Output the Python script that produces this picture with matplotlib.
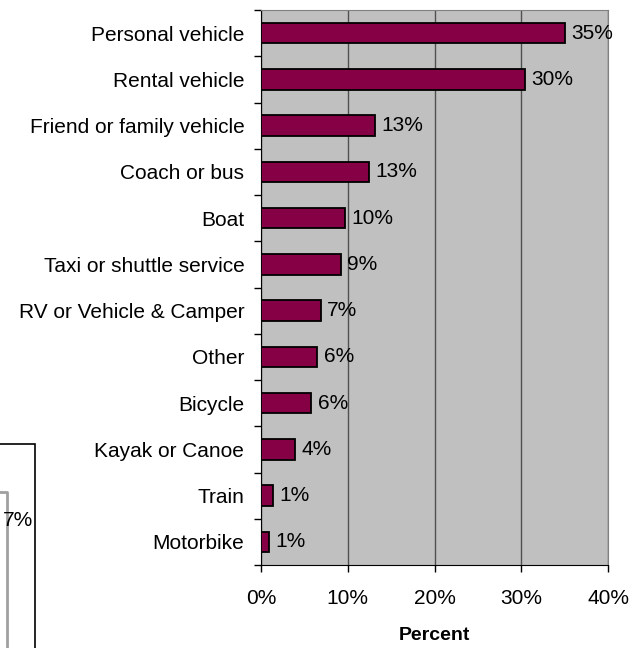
import matplotlib
matplotlib.use('Agg')
import matplotlib.pyplot as plt
from matplotlib.patches import Rectangle
from matplotlib.lines import Line2D

plt.rcParams['font.family'] = ['Liberation Sans', 'DejaVu Sans']

categories = ['Personal vehicle', 'Rental vehicle', 'Friend or family vehicle', 'Coach or bus',
              'Boat', 'Taxi or shuttle service', 'RV or Vehicle & Camper', 'Other', 'Bicycle',
              'Kayak or Canoe', 'Train', 'Motorbike']
values = [35.0, 30.4, 13.1, 12.4, 9.7, 9.2, 6.9, 6.5, 5.8, 3.9, 1.4, 0.9]
value_labels = ['35%', '30%', '13%', '13%', '10%', '9%', '7%', '6%', '6%', '4%', '1%', '1%']
xticks = [0, 10, 20, 30, 40]
xtick_labels = ['0%', '10%', '20%', '30%', '40%']

W, H = 637, 648
fs = 15
fig = plt.figure(figsize=(W / 100, H / 100), dpi=100)
ax = fig.add_axes([261 / W, 1 - 565 / H, (608 - 261) / W, (565 - 10) / H])
ax.set_facecolor('#C0C0C0')

n = len(categories)
ys = [n - 1 - i for i in range(n)]
ax.barh(ys, values, height=0.44, color='#850044', edgecolor='black', linewidth=1.3, zorder=3)
for y, v, lab in zip(ys, values, value_labels):
    ax.text(v + 0.75, y, lab, va='center', ha='left', fontsize=fs, zorder=4)

ax.set_xlim(0, 40)
ax.set_ylim(-0.5, n - 0.5)
ax.set_xticks(xticks)
ax.set_xticklabels(xtick_labels, fontsize=fs)
ax.set_yticks(ys)
ax.set_yticklabels(categories, fontsize=fs)
ax.tick_params(axis='y', length=0, pad=12)
ax.set_yticks([k - 0.5 for k in range(n + 1)], minor=True)
ax.tick_params(axis='y', which='minor', length=5, width=1)
ax.tick_params(axis='x', length=5, width=1, pad=12)
ax.grid(axis='x', color='#505050', linewidth=1, zorder=1)
for s in ['top', 'right']:
    ax.spines[s].set_color('#808080')
for s in ['left', 'bottom']:
    ax.spines[s].set_color('black')
ax.set_xlabel('Percent', fontsize=14, fontweight='bold', labelpad=14)

# partial neighbouring chart visible at the lower-left edge
fig.add_artist(Rectangle((-10 / W, -10 / H), 45 / W, (648 - 444 + 10) / H,
                         transform=fig.transFigure, fill=False, edgecolor='black', linewidth=1.2))
fig.add_artist(Line2D([0, 7 / W, 7 / W], [1 - 492 / H, 1 - 492 / H, 0],
                      transform=fig.transFigure, color='#A0A0A0', linewidth=2))
fig.text(33 / W, 1 - 521 / H, '7%', fontsize=fs, va='center', ha='right')

fig.savefig('out.png', dpi=100)
